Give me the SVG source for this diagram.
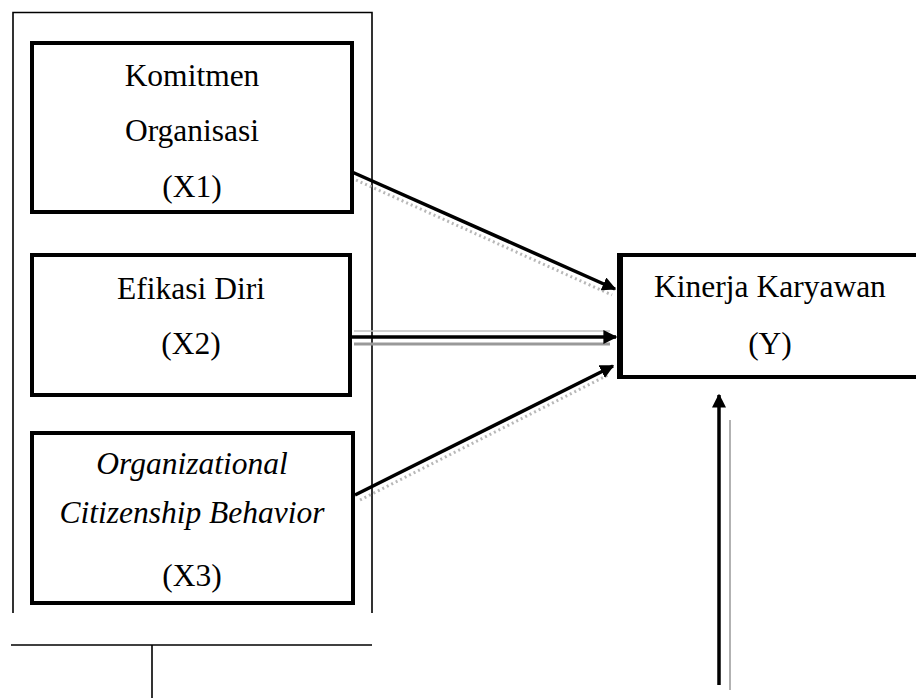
<svg xmlns="http://www.w3.org/2000/svg" width="916" height="698" viewBox="0 0 916 698">
<defs>
<marker id="ah" viewBox="0 0 10 10" refX="9" refY="5" markerWidth="4" markerHeight="4" orient="auto" markerUnits="strokeWidth">
<path d="M0,0 L10,5 L0,10 z" fill="#000"/>
</marker>
<style>
.t{font-family:"Liberation Serif","Times New Roman",serif;font-size:31.5px;fill:#000;text-anchor:middle}
.i{font-style:italic}
.box{fill:#fff;stroke:#000;stroke-width:4}
.thin{stroke:#000;stroke-width:1.6;fill:none}
.arr{stroke:#000;stroke-width:3.5;fill:none;marker-end:url(#ah)}
.sh{stroke:#b8b8b8;stroke-width:3;fill:none;stroke-dasharray:2 3}
</style>
</defs>
<rect width="916" height="698" fill="#fff"/>
<g id="container">
<path class="thin" d="M13,613 V12.5 H372 V613"/>
</g>
<g id="bottom-lines">
<line class="thin" x1="11" y1="645" x2="372" y2="645"/>
<line class="thin" x1="152" y1="645" x2="152" y2="698"/>
</g>
<g id="x1">
<rect class="box" x="32" y="43" width="320" height="169"/>
<text class="t" x="192" y="86">Komitmen</text>
<text class="t" x="192" y="141">Organisasi</text>
<text class="t" x="192" y="197">(X1)</text>
</g>
<g id="x2">
<rect class="box" x="32" y="255" width="318" height="140"/>
<text class="t" x="191" y="299">Efikasi Diri</text>
<text class="t" x="191" y="354">(X2)</text>
</g>
<g id="x3">
<rect class="box" x="32" y="433" width="321" height="170"/>
<text class="t i" x="192" y="474">Organizational</text>
<text class="t i" x="192" y="523">Citizenship Behavior</text>
<text class="t" x="192" y="586">(X3)</text>
</g>
<g id="y">
<rect class="box" x="620" y="255" width="320" height="122"/>
<line x1="620" y1="253" x2="620" y2="379" stroke="#000" stroke-width="6"/>
<text class="t" x="770" y="297">Kinerja Karyawan</text>
<text class="t" x="770" y="354">(Y)</text>
</g>
<g id="connectors">
<line class="sh" x1="356" y1="180" x2="612" y2="295"/>
<line class="arr" x1="352" y1="172" x2="615" y2="289"/>
<line x1="354" y1="331" x2="610" y2="331" stroke="#c0c0c0" stroke-width="1.5"/>
<line x1="354" y1="344" x2="610" y2="344" stroke="#999" stroke-width="3"/>
<line class="arr" x1="352" y1="337" x2="616" y2="337"/>
<line class="sh" x1="360" y1="500" x2="610" y2="374"/>
<line class="arr" x1="355" y1="495" x2="613" y2="366"/>
<line x1="730" y1="420" x2="730" y2="690" stroke="#999" stroke-width="1.5"/>
<line class="arr" x1="719" y1="685" x2="719" y2="395"/>
</g>
</svg>
